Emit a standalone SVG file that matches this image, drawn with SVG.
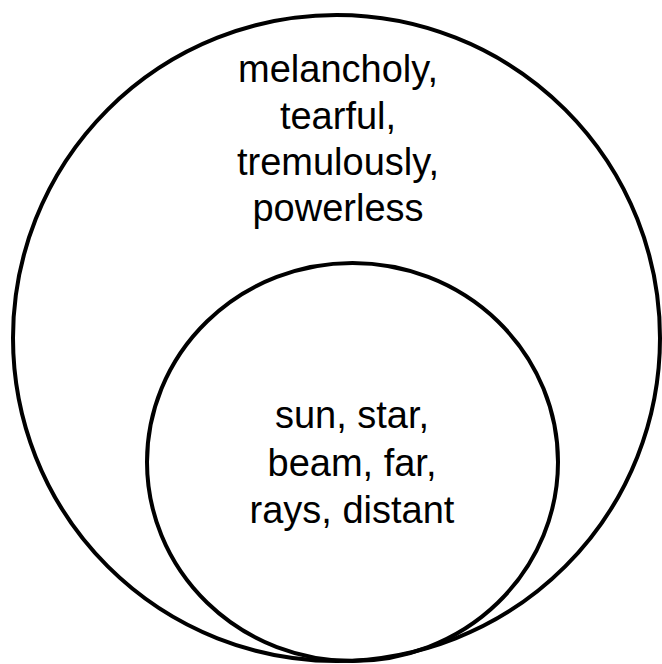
<svg xmlns="http://www.w3.org/2000/svg" width="662" height="664" viewBox="0 0 662 664">
<style>
.c{fill:none;stroke:#000;stroke-width:4}
.t{font-family:"Liberation Sans",Arial,sans-serif;font-size:38px;fill:#000;text-anchor:middle}
</style>
<rect width="662" height="664" fill="#fff"/>
<g id="outer">
<ellipse class="c" cx="336.5" cy="338" rx="323.5" ry="323"/>
<text class="t" x="338" y="82">melancholy,</text>
<text class="t" x="338" y="129">tearful,</text>
<text class="t" x="338" y="175">tremulously,</text>
<text class="t" x="338" y="221">powerless</text>
</g>
<g id="inner">
<ellipse class="c" cx="352.5" cy="462" rx="205.5" ry="199"/>
<text class="t" x="352" y="428">sun, star,</text>
<text class="t" x="352" y="476">beam, far,</text>
<text class="t" x="352" y="523">rays, distant</text>
</g>
<g id="connectors"></g>
</svg>
